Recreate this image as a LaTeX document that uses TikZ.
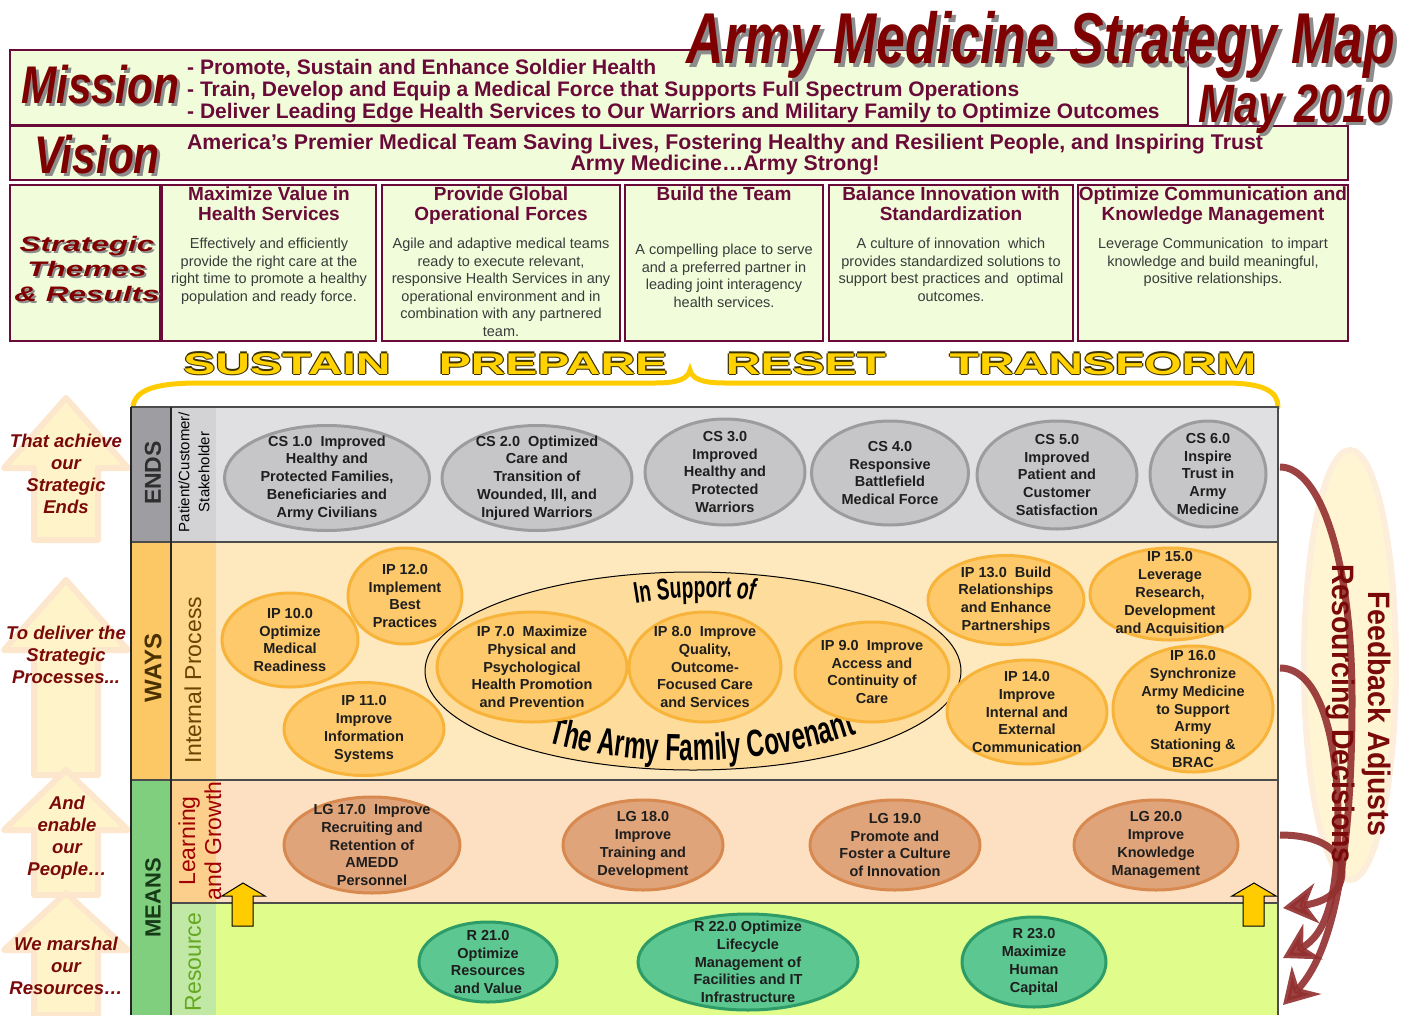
\documentclass[tikz,border=0pt]{standalone}
\usepackage{fontspec}
\setmainfont{Liberation Sans}
\newfontfamily\titlefont[FakeStretch=0.72]{Liberation Sans}
\newfontfamily\wordfont[FakeStretch=0.8]{Liberation Sans}
\newfontfamily\themefont[FakeStretch=1.5]{Liberation Sans}
\newfontfamily\widefont[FakeStretch=1.6]{Liberation Sans}
\newfontfamily\narrowfont[FakeStretch=0.92]{Liberation Sans}
\newfontfamily\covfont[FakeStretch=0.64]{Liberation Sans}
\usetikzlibrary{shapes.geometric, arrows.meta, decorations.text}

\definecolor{maroon}{HTML}{6A0A38}
\definecolor{panelgreen}{HTML}{F0FCDA}
\definecolor{bodygray}{HTML}{3A3A3A}
\definecolor{titlered}{HTML}{7E0000}
\definecolor{shadowgray}{HTML}{8C8C8C}
\definecolor{sayyellow}{HTML}{FFD200}
\definecolor{sayoutline}{HTML}{3C3200}
\definecolor{bracecol}{HTML}{FFCC00}
\definecolor{endscol}{HTML}{9E9EA2}
\definecolor{endssub}{HTML}{D3D3D6}
\definecolor{endsfill}{HTML}{E0E0E2}
\definecolor{wayscol}{HTML}{FCC865}
\definecolor{wayssub}{HTML}{FED68C}
\definecolor{waysfill}{HTML}{FEE8BE}
\definecolor{lgsub}{HTML}{FCD08C}
\definecolor{lgfill}{HTML}{FDE0C2}
\definecolor{meanscol}{HTML}{7FCF7F}
\definecolor{rsub}{HTML}{C2E8A6}
\definecolor{rfill}{HTML}{E0FC8A}
\definecolor{csfill}{HTML}{C6C6C8}
\definecolor{csline}{HTML}{9C9C9E}
\definecolor{ipfill}{HTML}{FDC96A}
\definecolor{ipline}{HTML}{F8B43A}
\definecolor{covfill}{HTML}{FEDC9C}
\definecolor{lgoalfill}{HTML}{E0A47A}
\definecolor{lgoalline}{HTML}{D8894F}
\definecolor{rgoalfill}{HTML}{5CC790}
\definecolor{rgoalline}{HTML}{2E9C68}
\definecolor{goalink}{HTML}{1E1E1E}
\definecolor{sidered}{HTML}{7A0A0A}
\definecolor{arrowfill}{HTML}{FFF4C9}
\definecolor{arrowglow}{HTML}{FCE6CC}
\definecolor{glowfill}{HTML}{FFF5D2}
\definecolor{feedred}{HTML}{922E2E}
\definecolor{upyellow}{HTML}{FFCC00}
\definecolor{endsink}{HTML}{2E2E2E}
\definecolor{waysink}{HTML}{4A3200}
\definecolor{ipink}{HTML}{6E4200}
\definecolor{meansink}{HTML}{173A17}
\definecolor{lgink}{HTML}{A00000}
\definecolor{rink}{HTML}{66A822}

% text with a grey drop shadow
\newcommand\shadowtext[3]{\rlap{\kern#3\raisebox{-#3}{\color{shadowgray}#2}}{\color{#1}#2}}
% yellow text with a dark rim
\newcommand\rimtext[1]{%
  \rlap{\kern-1.3pt\color{sayoutline}#1}\rlap{\kern1.3pt\color{sayoutline}#1}%
  \rlap{\raisebox{1.3pt}{\color{sayoutline}#1}}\rlap{\raisebox{-1.3pt}{\color{sayoutline}#1}}%
  {\color{sayyellow}#1}}

\begin{document}
\begin{tikzpicture}[x=1pt, y=-1pt,
    frame/.style={draw=maroon, line width=2pt, fill=panelgreen},
    themehead/.style={anchor=north, align=center, inner sep=0pt, text=maroon,
      font=\bfseries\fontsize{19}{20}\selectfont},
    themebody/.style={anchor=north, align=center, inner sep=0pt, text=bodygray,
      font=\fontsize{14.5}{17.5}\selectfont},
    saying/.style={anchor=base, inner sep=0pt, font=\widefont\bfseries\fontsize{30}{30}\selectfont},
    sidelabel/.style={align=center, inner sep=0pt, text=sidered,
      font=\bfseries\itshape\fontsize{18.5}{22}\selectfont},
    lane/.style={rotate=90, align=center, inner sep=0pt},
    backarrow/.style={fill=arrowfill, draw=arrowglow, line width=6pt, line join=round},
    goal/.style 2 args={ellipse, line width=3pt, minimum width=#1, minimum height=#2, inner sep=0pt},
    csgoal/.style 2 args={goal={#1}{#2}, draw=csline, fill=csfill},
    ipgoal/.style 2 args={goal={#1}{#2}, draw=ipline, fill=ipfill},
    lggoal/.style 2 args={goal={#1}{#2}, draw=lgoalline, fill=lgoalfill},
    rgoal/.style 2 args={goal={#1}{#2}, draw=rgoalline, fill=rgoalfill},
    goaltext/.style={align=center, inner sep=0pt, text=goalink,
      font=\bfseries\fontsize{14.5}{17.8}\selectfont},
    uparrow/.style={fill=upyellow, draw=black, line width=1pt},
    feedback/.style={draw=feedred, line width=7pt, opacity=0.9,
      -{Stealth[length=34pt, width=40pt]}},
  ]
  \useasboundingbox (0, 0) rectangle (1406, 1015);

  % ------------------------------------------------------------------------
  % Mission and vision
  \draw[frame] (10, 50) rectangle (1188, 125);
  \draw[frame] (10, 126) rectangle (1348, 180);

  \node[anchor=base, inner sep=0pt, font=\wordfont\bfseries\itshape\fontsize{53}{53}\selectfont]
    at (100, 103) (mission) {\shadowtext{titlered}{Mission}{3pt}};
  \node[anchor=base, inner sep=0pt, font=\wordfont\bfseries\itshape\fontsize{53}{53}\selectfont]
    at (97, 173) (vision) {\shadowtext{titlered}{Vision}{3pt}};

  \node[anchor=west, align=left, inner sep=0pt, text=maroon, font=\bfseries\fontsize{21}{22}\selectfont]
    at (187, 91) (missiontext)
    {- Promote, Sustain and Enhance Soldier Health\\
     - Train, Develop and Equip a Medical Force that Supports Full Spectrum Operations\\
     - Deliver Leading Edge Health Services to Our Warriors and Military Family to Optimize Outcomes};
  \node[align=center, inner sep=0pt, text=maroon, font=\bfseries\fontsize{21.3}{21}\selectfont]
    at (725, 155) (visiontext)
    {America’s Premier Medical Team Saving Lives, Fostering Healthy and Resilient People, and Inspiring Trust\\
     Army Medicine…Army Strong!};

  \node[anchor=base, inner sep=0pt, font=\titlefont\bfseries\itshape\fontsize{72}{72}\selectfont]
    at (1041, 63) (title) {\shadowtext{titlered}{Army Medicine Strategy Map}{4pt}};
  \node[anchor=base, inner sep=0pt, font=\wordfont\bfseries\itshape\fontsize{54}{54}\selectfont]
    at (1295, 122) (date) {\shadowtext{titlered}{May 2010}{3pt}};

  % ------------------------------------------------------------------------
  % Strategic themes
  \draw[frame] (10, 185) rectangle (160, 341);
  \draw[frame] (162, 185) rectangle (376, 341);
  \draw[frame] (382, 185) rectangle (620, 341);
  \draw[frame] (625, 185) rectangle (823, 341);
  \draw[frame] (829, 185) rectangle (1073, 341);
  \draw[frame] (1078, 185) rectangle (1348, 341);

  \node[align=center, inner sep=0pt, font=\themefont\bfseries\itshape\fontsize{21}{25}\selectfont]
    at (87, 270) (themes)
    {\shadowtext{titlered}{Strategic}{2pt}\\ \shadowtext{titlered}{Themes}{2pt}\\ \shadowtext{titlered}{\& Results}{2pt}};

  \node[themehead] at (269, 187) (th1) {Maximize Value in\\Health Services};
  \node[themehead] at (501, 187) (th2) {Provide Global\\Operational Forces};
  \node[themehead] at (724, 187) (th3) {Build the Team};
  \node[themehead] at (951, 187) (th4) {Balance Innovation with\\Standardization};
  \node[themehead] at (1213, 187) (th5) {Optimize Communication and\\Knowledge Management};

  \node[themebody] at (269, 238) (tb1)
    {Effectively and efficiently\\provide the right care at the\\right time to promote a healthy\\population and ready force.};
  \node[themebody] at (501, 238) (tb2)
    {Agile and adaptive medical teams\\ready to execute relevant,\\responsive Health Services in any\\operational environment and in\\combination with any partnered\\team.};
  \node[themebody] at (724, 244) (tb3)
    {A compelling place to serve\\and a preferred partner in\\leading joint interagency\\health services.};
  \node[themebody] at (951, 238) (tb4)
    {A culture of innovation\ \ which\\provides standardized solutions to\\support best practices and\ \ optimal\\outcomes.};
  \node[themebody] at (1213, 238) (tb5)
    {Leverage Communication\ \ to impart\\knowledge and build meaningful,\\positive relationships.};

  \node[saying] at (287, 374) (sustain) {\rimtext{SUSTAIN}};
  \node[saying] at (553, 374) (prepare) {\rimtext{PREPARE}};
  \node[saying] at (806, 374) (reset) {\rimtext{RESET}};
  \node[saying] at (1103, 374) (transform) {\rimtext{TRANSFORM}};

  \draw[bracecol, line width=5pt, line cap=round]
    (133, 407) .. controls (135, 388) and (160, 383) .. (200, 383) -- (655, 383)
    .. controls (680, 383) and (688, 378) .. (690, 370)
    .. controls (692, 378) and (700, 383) .. (725, 383) -- (1225, 383)
    .. controls (1265, 383) and (1278, 392) .. (1278, 407);

  % ------------------------------------------------------------------------
  % Side arrows
  \draw[backarrow] (66, 398) -- (128, 468) -- (98, 468) -- (98, 540) -- (34, 540) -- (34, 468) -- (4, 468) -- cycle;
  \draw[backarrow] (66, 580) -- (128, 650) -- (98, 650) -- (98, 775) -- (34, 775) -- (34, 650) -- (4, 650) -- cycle;
  \draw[backarrow] (66, 770) -- (128, 830) -- (98, 830) -- (98, 895) -- (34, 895) -- (34, 830) -- (4, 830) -- cycle;
  \draw[backarrow] (66, 893) -- (128, 950) -- (98, 950) -- (98, 1015) -- (34, 1015) -- (34, 950) -- (4, 950) -- cycle;

  \node[sidelabel] at (66, 474) (achieve) {That achieve\\our\\Strategic\\Ends};
  \node[sidelabel] at (66, 655) (deliver) {To deliver the\\Strategic\\Processes...};
  \node[sidelabel] at (67, 838) (enable) {And\\enable\\our\\People…};
  \node[sidelabel] at (66, 966) (marshal) {We marshal\\our\\Resources…};

  \fill[glowfill, draw=arrowglow!70, line width=6pt] (1350, 665) ellipse [x radius=46, y radius=215];

  % ------------------------------------------------------------------------
  % Perspective lanes
  \fill[endsfill] (216, 407) rectangle (1278, 542);
  \fill[endscol] (131, 407) rectangle (171, 542);
  \fill[endssub] (171, 407) rectangle (216, 542);
  \fill[waysfill] (216, 542) rectangle (1278, 780);
  \fill[wayscol] (131, 542) rectangle (171, 780);
  \fill[wayssub] (171, 542) rectangle (216, 780);
  \fill[lgfill] (216, 780) rectangle (1278, 903);
  \fill[lgsub] (171, 780) rectangle (216, 903);
  \fill[rfill] (216, 903) rectangle (1278, 1015);
  \fill[rsub] (171, 903) rectangle (216, 1015);
  \fill[meanscol] (131, 780) rectangle (171, 1015);

  \draw[black!70, line width=1.5pt] (131, 407) -- (1278, 407) -- (1278, 1015);
  \draw[black!70, line width=1.5pt] (131, 542) -- (1278, 542);
  \draw[black!70, line width=1.5pt] (131, 780) -- (1278, 780);
  \draw[black!70, line width=1.5pt] (171, 903) -- (1278, 903);
  \draw[black!85, line width=2pt] (131, 407) -- (131, 1015);
  \draw[black!85, line width=2pt] (171, 407) -- (171, 1015);

  \node[lane, text=endsink, font=\bfseries\fontsize{23}{23}\selectfont] at (153, 473) (ends) {ENDS};
  \node[lane, text=waysink, font=\bfseries\fontsize{24}{24}\selectfont] at (153, 668) (ways) {WAYS};
  \node[lane, text=meansink, font=\bfseries\fontsize{22}{22}\selectfont] at (153, 898) (means) {MEANS};
  \node[lane, text=black, font=\fontsize{15}{20}\selectfont] at (194, 472) (lanecs) {Patient/Customer/\\Stakeholder};
  \node[lane, text=ipink, font=\fontsize{23}{23}\selectfont] at (193, 680) (laneip) {Internal Process};
  \node[lane, text=lgink, font=\fontsize{23}{26}\selectfont] at (200, 841) (lanelg) {Learning\\and Growth};
  \node[lane, text=rink, font=\fontsize{23}{23}\selectfont] at (193, 962) (laner) {Resource};

  % ------------------------------------------------------------------------
  % Customer objectives
  \node[csgoal={205pt}{105pt}, label={[goaltext]center:{CS 1.0\ \ Improved\\Healthy and\\Protected Families,\\Beneficiaries and\\Army Civilians}}]
    at (327, 478) (cs1) {};
  \node[csgoal={190pt}{105pt}, label={[goaltext]center:{CS 2.0\ \ Optimized\\Care and\\Transition of\\Wounded, Ill, and\\Injured Warriors}}]
    at (537, 478) (cs2) {};
  \node[csgoal={160pt}{106pt}, label={[goaltext]center:{CS 3.0\\Improved\\Healthy and\\Protected\\Warriors}}]
    at (725, 472) (cs3) {};
  \node[csgoal={157pt}{104pt}, label={[goaltext]center:{CS 4.0\\Responsive\\Battlefield\\Medical Force}}]
    at (890, 473) (cs4) {};
  \node[csgoal={160pt}{108pt}, label={[goaltext]center:{CS 5.0\\Improved\\Patient and\\Customer\\Satisfaction}}]
    at (1057, 475) (cs5) {};
  \node[csgoal={116pt}{106pt}, label={[goaltext]center:{CS 6.0\\Inspire\\Trust in\\Army\\Medicine}}]
    at (1208, 474) (cs6) {};

  % ------------------------------------------------------------------------
  % Internal process objectives
  \node[ellipse, draw=black, line width=1pt, fill=covfill, minimum width=536pt, minimum height=198pt]
    at (693, 671) (covenant) {};
  \path[decorate, decoration={text along path, text align=center,
      text={|\covfont\bfseries\fontsize{30}{30}\selectfont|In Support |\covfont\bfseries\itshape\fontsize{30}{30}\selectfont|of}}]
    (615, 607) .. controls (665, 596) and (725, 594) .. (775, 603);
  \path[decorate, decoration={text along path, text align=center,
      text={|\covfont\bfseries\fontsize{38}{38}\selectfont|The Army Family Covenant}}]
    (532, 738) .. controls (635, 770) and (765, 770) .. (872, 728);

  \node[ipgoal={114pt}{96pt}, label={[goaltext]center:{IP 12.0\\Implement\\Best\\Practices}}]
    at (405, 596) (ip12) {};
  \node[ipgoal={136pt}{94pt}, label={[goaltext]center:{IP 10.0\\Optimize\\Medical\\Readiness}}]
    at (290, 640) (ip10) {};
  \node[ipgoal={160pt}{93pt}, label={[goaltext]center:{IP 11.0\\Improve\\Information\\Systems}}]
    at (364, 729) (ip11) {};
  \node[ipgoal={190pt}{110pt}, label={[goaltext]center:{IP 7.0\ \ Maximize\\Physical and\\Psychological\\Health Promotion\\and Prevention}}]
    at (532, 667) (ip7) {};
  \node[ipgoal={152pt}{110pt}, label={[goaltext]center:{IP 8.0\ \ Improve\\Quality,\\Outcome-\\Focused Care\\and Services}}]
    at (705, 667) (ip8) {};
  \node[ipgoal={154pt}{100pt}, label={[goaltext]center:{IP 9.0\ \ Improve\\Access and\\Continuity of\\Care}}]
    at (872, 672) (ip9) {};
  \node[ipgoal={156pt}{89pt}, label={[goaltext]center:{IP 13.0\ \ Build\\Relationships\\and Enhance\\Partnerships}}]
    at (1006, 600) (ip13) {};
  \node[ipgoal={160pt}{92pt}, label={[goaltext]center:{IP 15.0\\Leverage\\Research,\\Development\\and Acquisition}}]
    at (1170, 594) (ip15) {};
  \node[ipgoal={160pt}{104pt}, label={[goaltext]center:{IP 14.0\\Improve\\Internal and\\External\\Communication}}]
    at (1027, 712) (ip14) {};
  \node[ipgoal={160pt}{126pt}, label={[goaltext]center:{IP 16.0\\Synchronize\\Army Medicine\\to Support\\Army\\Stationing \&\\BRAC}}]
    at (1193, 709) (ip16) {};

  % ------------------------------------------------------------------------
  % Learning and growth, resource objectives
  \node[lggoal={176pt}{96pt}, label={[goaltext]center:{LG 17.0\ \ Improve\\Recruiting and\\Retention of\\AMEDD\\Personnel}}]
    at (372, 845) (lg17) {};
  \node[lggoal={160pt}{90pt}, label={[goaltext]center:{LG 18.0\\Improve\\Training and\\Development}}]
    at (643, 845) (lg18) {};
  \node[lggoal={170pt}{90pt}, label={[goaltext]center:{LG 19.0\\Promote and\\Foster a Culture\\of Innovation}}]
    at (895, 845) (lg19) {};
  \node[lggoal={164pt}{90pt}, label={[goaltext]center:{LG 20.0\\Improve\\Knowledge\\Management}}]
    at (1156, 845) (lg20) {};

  \node[rgoal={138pt}{80pt}, label={[goaltext]center:{R 21.0\\Optimize\\Resources\\and Value}}]
    at (488, 962) (r21) {};
  \node[rgoal={220pt}{96pt}, label={[goaltext]center:{R 22.0 Optimize\\Lifecycle\\Management of\\Facilities and IT\\Infrastructure}}]
    at (748, 962) (r22) {};
  \node[rgoal={144pt}{90pt}, label={[goaltext]center:{R 23.0\\Maximize\\Human\\Capital}}]
    at (1034, 962) (r23) {};

  \draw[uparrow] (243, 883) -- (265, 896) -- (253, 896) -- (253, 926) -- (232, 926) -- (232, 896) -- (222, 896) -- cycle;
  \draw[uparrow] (1254, 883) -- (1276, 896) -- (1264, 896) -- (1264, 926) -- (1243, 926) -- (1243, 896) -- (1232, 896) -- cycle;

  % ------------------------------------------------------------------------
  % Feedback loop
  \coordinate (fbA) at (1280, 467);
  \coordinate (fbB) at (1280, 668);
  \coordinate (fbC) at (1280, 835);
  \coordinate (fbAend) at (1283, 1005);
  \coordinate (fbBend) at (1283, 958);
  \coordinate (fbCend) at (1283, 908);

  \draw[feedback] (fbA) .. controls (1320, 467) and (1352, 560) .. (1352, 700)
    .. controls (1352, 850) and (1335, 950) .. (fbAend);
  \draw[feedback] (fbB) .. controls (1320, 668) and (1338, 740) .. (1338, 820)
    .. controls (1338, 900) and (1325, 935) .. (fbBend);
  \draw[feedback] (fbC) .. controls (1320, 835) and (1342, 850) .. (1342, 872)
    .. controls (1342, 895) and (1320, 903) .. (fbCend);

  \node[rotate=-90, inner sep=0pt, text=sidered, font=\narrowfont\bfseries\fontsize{31}{31}\selectfont]
    at (1377, 714) (adjusts) {Feedback Adjusts};
  \node[rotate=-90, inner sep=0pt, text=sidered, font=\narrowfont\bfseries\fontsize{31}{31}\selectfont]
    at (1340, 714) (decisions) {Resourcing Decisions};
\end{tikzpicture}
\end{document}
